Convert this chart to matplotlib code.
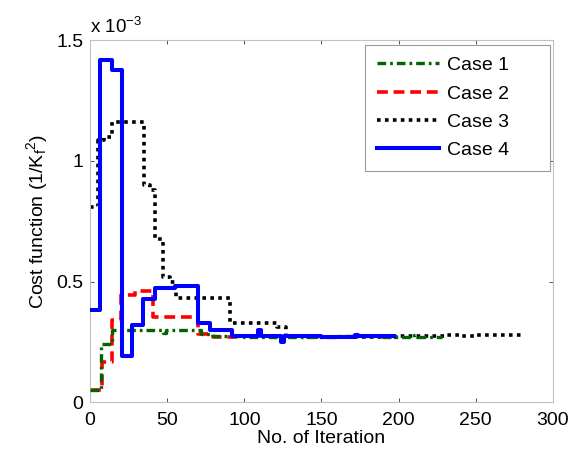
import matplotlib
matplotlib.use("Agg")
import matplotlib.pyplot as plt
from matplotlib.ticker import FuncFormatter
import numpy as np

# Data (cost function values in units of 1e-3, steps start at each iteration)
case1_iter = [0, 7, 14, 47, 49, 72, 80, 100, 130, 160, 190, 210, 212, 228]
case1_cost = [0.05, 0.24, 0.30, 0.285, 0.30, 0.282, 0.275, 0.272, 0.272, 0.273, 0.272, 0.28, 0.272, 0.272]

case2_iter = [0, 7.5, 14, 20, 29, 41, 70, 80, 95]
case2_cost = [0.05, 0.165, 0.34, 0.445, 0.462, 0.352, 0.284, 0.27, 0.27]

case3_iter = [0, 5, 9, 14, 35, 39, 42, 47, 52, 56, 91, 121, 127, 140, 200, 230, 240, 250, 270, 280]
case3_cost = [0.81, 1.087, 1.10, 1.163, 0.90, 0.88, 0.675, 0.52, 0.50, 0.43, 0.33, 0.31, 0.275, 0.272,
              0.275, 0.28, 0.275, 0.278, 0.28, 0.28]

case4_iter = [0, 6.5, 14, 20.5, 27, 34.5, 42, 55, 70, 78, 92, 109, 111, 124, 126, 150, 172, 174, 197]
case4_cost = [0.38, 1.42, 1.375, 0.19, 0.32, 0.426, 0.472, 0.482, 0.33, 0.30, 0.275, 0.30, 0.275, 0.25,
              0.275, 0.272, 0.28, 0.275, 0.275]

x_ticks = [0, 50, 100, 150, 200, 250, 300]
y_ticks = [0, 0.5e-3, 1e-3, 1.5e-3]

plt.rcParams['font.family'] = ['Liberation Sans', 'DejaVu Sans']
plt.rcParams['mathtext.fontset'] = 'custom'
plt.rcParams['mathtext.rm'] = 'Liberation Sans'
plt.rcParams['mathtext.it'] = 'Liberation Sans'

fig = plt.figure(figsize=(5.85, 4.57), dpi=100)
ax = fig.add_axes([0.154, 0.12, 0.791, 0.792])

# Plot each case as a staircase
ax.plot(case1_iter, np.array(case1_cost) * 1e-3, drawstyle='steps-post',
        color='#006400', linestyle=(0, (2.6, 1.2, 0.8, 1.2)), linewidth=2.4, label='Case 1', zorder=3)
ax.plot(case2_iter, np.array(case2_cost) * 1e-3, drawstyle='steps-post',
        color='red', linestyle=(0, (3.0, 1.6)), linewidth=2.6, label='Case 2', zorder=2)
ax.plot(case3_iter, np.array(case3_cost) * 1e-3, drawstyle='steps-post',
        color='black', linestyle=(0, (1, 1.2)), linewidth=2.6, label='Case 3', zorder=2)
ax.plot(case4_iter, np.array(case4_cost) * 1e-3, drawstyle='steps-post',
        color='blue', linestyle='-', linewidth=2.9, label='Case 4', zorder=4)

ax.set_xlim(0, 300)
ax.set_ylim(0, 1.5e-3)
ax.set_xticks(x_ticks)
ax.set_yticks(y_ticks)
ax.yaxis.set_major_formatter(FuncFormatter(lambda v, p: f"{v*1e3:g}"))

# MATLAB-ish box
for s in ax.spines.values():
    s.set_color('#c0c0c0')
    s.set_linewidth(0.8)
ax.tick_params(direction='in', length=3, width=0.6, color='#333333',
               top=True, right=True, labelsize=14)
ax.tick_params(axis='x', pad=7)
ax.tick_params(axis='y', pad=5)

ax.text(0, 1.01, r'x 10$^{-3}$', transform=ax.transAxes, ha='left', va='bottom', fontsize=13.5)

ax.set_xlabel('No. of Iteration', fontsize=14, labelpad=1)
ax.set_ylabel(r'Cost function (1/K$_{\mathrm{f}}{}^{2}$)', fontsize=14, labelpad=4)

# legend box wider than its contents, like the MATLAB one
leg = ax.legend(loc='upper left', bbox_to_anchor=(0.594, 0.5, 0.4, 0.487), mode='expand',
                fontsize=14, fancybox=False, framealpha=1,
                edgecolor='#9a9a9a', handlelength=3.2, handletextpad=0.4,
                labelspacing=0.55, borderaxespad=0, borderpad=0.6)
leg.get_frame().set_linewidth(0.8)

fig.savefig('out.png', dpi=100)
